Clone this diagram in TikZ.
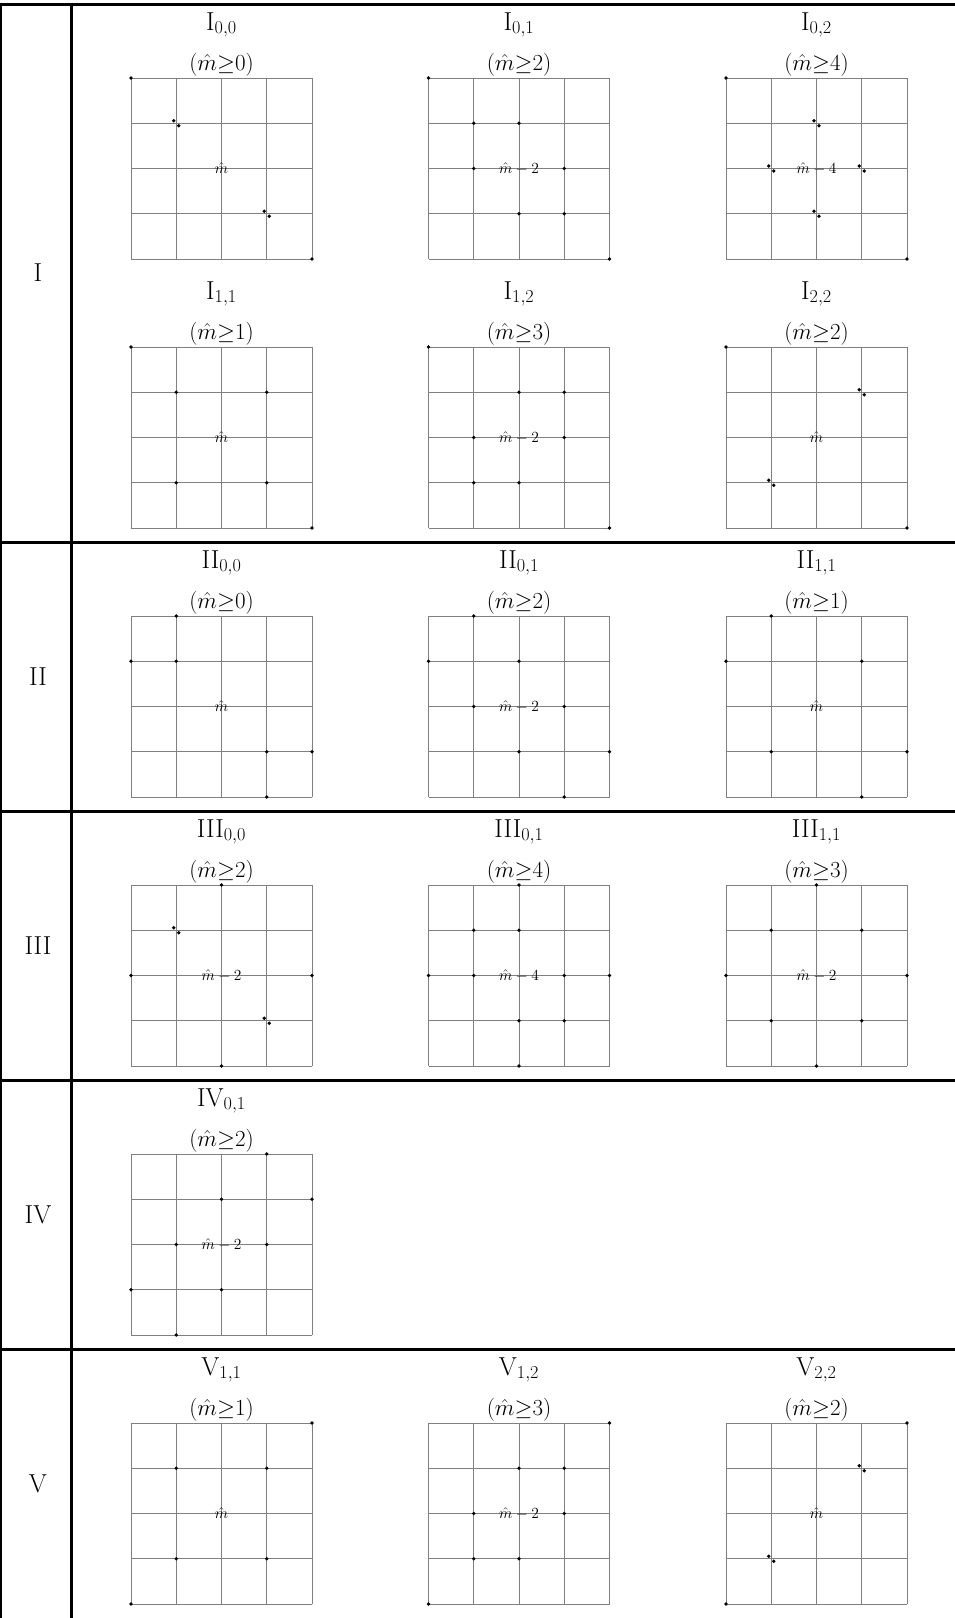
\RequirePackage{fix-cm}
\documentclass[tikz,border=0pt]{standalone}
\usepackage{amsmath}
\tikzset{
  x=1pt, y=-1pt,
  gridline/.style={draw=black!50, line width=0.85pt},
  rule/.style={draw=black, line width=3pt},
  titletext/.style={anchor=base, inner sep=0pt, font=\fontsize{26}{30}\selectfont},
  condtext/.style={anchor=base, inner sep=0pt, font=\fontsize{23}{27}\selectfont},
  centertext/.style={inner sep=0pt, font=\fontsize{15.5}{17}\selectfont},
  rowtext/.style={inner sep=0pt, font=\fontsize{26}{30}\selectfont},
  gdot/.style={fill=black}
}
\newcommand{\panel}[4]{%
  \foreach \k in {0,...,4} {
    \draw[gridline] (\k*45.25,0) -- (\k*45.25,181);
    \draw[gridline] (0,\k*45.25) -- (181,\k*45.25);
  }
  \node[titletext] (#4t) at (90.5,-48) {$\mathrm{#1}$};
  \node[condtext] (#4c) at (90.5,-8) {$(\hat{m}{\geq}#2)$};
  \node[centertext] (#4m) at (90.5,90.5) {$#3$};
}
\newcommand{\sdots}[1]{%
  \foreach \i/\j in {#1} { \fill[gdot] (\i*45.25,\j*45.25) circle[radius=1.8pt]; }
}
\newcommand{\pdots}[1]{%
  \foreach \i/\j in {#1} {
    \fill[gdot] (\i*45.25-2.5,\j*45.25-2.5) circle[radius=1.8pt];
    \fill[gdot] (\i*45.25+2.5,\j*45.25+2.5) circle[radius=1.8pt];
  }
}
\begin{document}
\begin{tikzpicture}
\useasboundingbox (0,0) rectangle (955,1618);
% table rules
\coordinate (tl) at (0,4);
\coordinate (tr) at (955,4);
\draw[rule] (tl) -- (tr);
\foreach \yy in {542,811,1080,1349} { \draw[rule] (0,\yy) -- (955,\yy); }
\draw[draw=black, line width=2.5pt] (1.2,2.5) -- (1.2,1618);
\draw[rule] (71,2.5) -- (71,1618);
% row labels
\node[rowtext] (rI) at (38,273) {I};
\node[rowtext] (rII) at (38,676.5) {II};
\node[rowtext] (rIII) at (38,945.5) {III};
\node[rowtext] (rIV) at (38,1214.5) {IV};
\node[rowtext] (rV) at (38,1483.5) {V};
% Row I
\begin{scope}[shift={(131,78)}]
  \panel{I_{0,0}}{0}{\hat{m}}{pIa}
  \sdots{0/0,4/4}
  \pdots{1/1,3/3}
\end{scope}
\begin{scope}[shift={(428.5,78)}]
  \panel{I_{0,1}}{2}{\hat{m}-2}{pIb}
  \sdots{0/0,1/1,2/1,1/2,3/2,2/3,3/3,4/4}
\end{scope}
\begin{scope}[shift={(726,78)}]
  \panel{I_{0,2}}{4}{\hat{m}-4}{pIc}
  \sdots{0/0,4/4}
  \pdots{2/1,1/2,3/2,2/3}
\end{scope}
\begin{scope}[shift={(131,347)}]
  \panel{I_{1,1}}{1}{\hat{m}}{pId}
  \sdots{0/0,1/1,3/1,1/3,3/3,4/4}
\end{scope}
\begin{scope}[shift={(428.5,347)}]
  \panel{I_{1,2}}{3}{\hat{m}-2}{pIe}
  \sdots{0/0,2/1,3/1,1/2,3/2,1/3,2/3,4/4}
\end{scope}
\begin{scope}[shift={(726,347)}]
  \panel{I_{2,2}}{2}{\hat{m}}{pIf}
  \sdots{0/0,4/4}
  \pdots{3/1,1/3}
\end{scope}
% Row II
\begin{scope}[shift={(131,616)}]
  \panel{II_{0,0}}{0}{\hat{m}}{pIIa}
  \sdots{1/0,0/1,1/1,3/3,4/3,3/4}
\end{scope}
\begin{scope}[shift={(428.5,616)}]
  \panel{II_{0,1}}{2}{\hat{m}-2}{pIIb}
  \sdots{1/0,0/1,2/1,1/2,3/2,2/3,4/3,3/4}
\end{scope}
\begin{scope}[shift={(726,616)}]
  \panel{II_{1,1}}{1}{\hat{m}}{pIIc}
  \sdots{1/0,0/1,3/1,1/3,4/3,3/4}
\end{scope}
% Row III
\begin{scope}[shift={(131,885)}]
  \panel{III_{0,0}}{2}{\hat{m}-2}{pIIIa}
  \sdots{2/0,0/2,4/2,2/4}
  \pdots{1/1,3/3}
\end{scope}
\begin{scope}[shift={(428.5,885)}]
  \panel{III_{0,1}}{4}{\hat{m}-4}{pIIIb}
  \sdots{2/0,1/1,2/1,0/2,1/2,3/2,4/2,2/3,3/3,2/4}
\end{scope}
\begin{scope}[shift={(726,885)}]
  \panel{III_{1,1}}{3}{\hat{m}-2}{pIIIc}
  \sdots{2/0,1/1,3/1,0/2,4/2,1/3,3/3,2/4}
\end{scope}
% Row IV
\begin{scope}[shift={(131,1154)}]
  \panel{IV_{0,1}}{2}{\hat{m}-2}{pIVa}
  \sdots{3/0,2/1,4/1,1/2,3/2,0/3,2/3,1/4}
\end{scope}
% Row V
\begin{scope}[shift={(131,1423)}]
  \panel{V_{1,1}}{1}{\hat{m}}{pVa}
  \sdots{4/0,1/1,3/1,1/3,3/3,0/4}
\end{scope}
\begin{scope}[shift={(428.5,1423)}]
  \panel{V_{1,2}}{3}{\hat{m}-2}{pVb}
  \sdots{4/0,2/1,3/1,1/2,3/2,1/3,2/3,0/4}
\end{scope}
\begin{scope}[shift={(726,1423)}]
  \panel{V_{2,2}}{2}{\hat{m}}{pVc}
  \sdots{4/0,0/4}
  \pdots{3/1,1/3}
\end{scope}
\end{tikzpicture}
\end{document}
